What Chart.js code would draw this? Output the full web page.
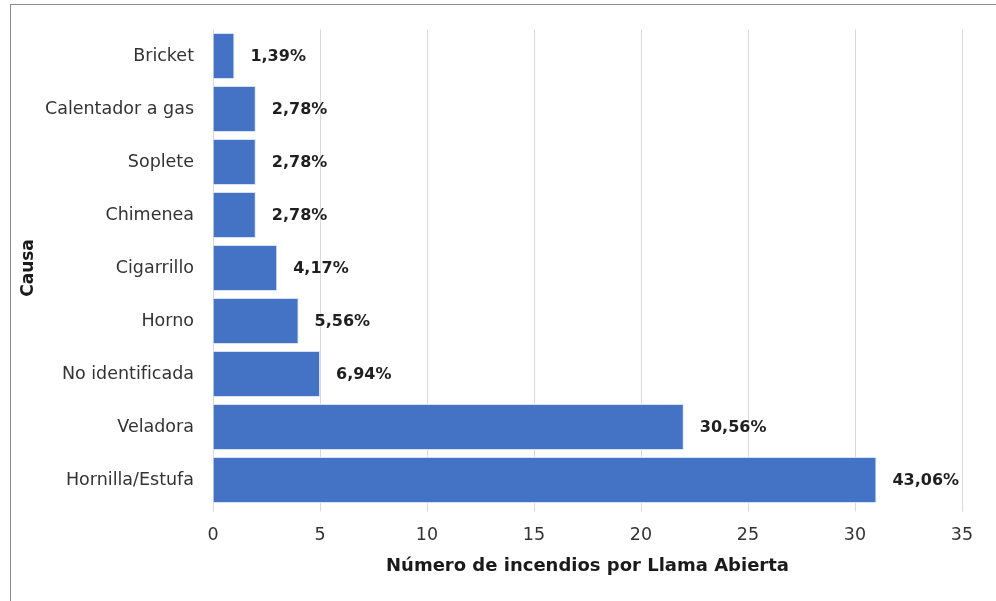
<!DOCTYPE html>
<html lang="es">
<head>
    <meta charset="UTF-8">
    <title>Causas de incendios por llama abierta</title>
    <style>
        body {
            margin: 0;
            background: #fff;
        }

        #wrap {
            position: relative;
            width: 996px;
            height: 601px;
            overflow: hidden;
        }

        #frame {
            position: absolute;
            left: 10px;
            top: 4px;
            width: 1000px;
            height: 620px;
            border: 1px solid #8c8c8c;
            pointer-events: none;
        }
    </style>
</head>
<body>
    <div id="wrap">
        <canvas id="chart" width="996" height="601"></canvas>
        <div id="frame"></div>
    </div>

    <script src="https://cdn.jsdelivr.net/npm/chart.js"></script>
    <script>
        // categories, counts and the percent labels shown next to each bar
        const causas = ['Bricket', 'Calentador a gas', 'Soplete', 'Chimenea', 'Cigarrillo', 'Horno', 'No identificada', 'Veladora', 'Hornilla/Estufa'];
        const incendios = [1, 2, 2, 2, 3, 4, 5, 22, 31];
        const porcentajes = ['1,39%', '2,78%', '2,78%', '2,78%', '4,17%', '5,56%', '6,94%', '30,56%', '43,06%'];
        const xTicks = [0, 5, 10, 15, 20, 25, 30, 35];

        const fontFamily = '"DejaVu Sans"';

        // draws the percent text right of each bar
        const barLabels = {
            id: 'barLabels',
            afterDatasetsDraw(chart) {
                const ctx = chart.ctx;
                const meta = chart.getDatasetMeta(0);
                ctx.save();
                ctx.font = 'bold 16px ' + fontFamily;
                ctx.fillStyle = '#1f1f1f';
                ctx.textAlign = 'left';
                ctx.textBaseline = 'middle';
                meta.data.forEach((bar, i) => {
                    ctx.fillText(porcentajes[i], bar.x + 16, bar.y + 1);
                });
                ctx.restore();
            }
        };

        const ctx = document.getElementById('chart').getContext('2d');
        new Chart(ctx, {
            type: 'bar',
            data: {
                labels: causas,
                datasets: [{
                    data: incendios,
                    backgroundColor: '#4472c4',
                    borderColor: '#d6e0f2',
                    borderWidth: 1,
                    categoryPercentage: 1,
                    barPercentage: 0.87
                }]
            },
            plugins: [barLabels],
            options: {
                indexAxis: 'y',
                responsive: false,
                animation: false,
                layout: {
                    padding: { left: 18, top: 28, right: 34, bottom: 20 }
                },
                plugins: {
                    legend: { display: false },
                    tooltip: { enabled: false }
                },
                scales: {
                    x: {
                        min: 0,
                        max: 35,
                        afterBuildTicks(scale) {
                            scale.ticks = xTicks.map(v => ({ value: v }));
                        },
                        afterFit(scale) {
                            scale.height = 74.5;
                        },
                        grid: {
                            color: '#d9d9d9',
                            lineWidth: 1,
                            tickLength: 5,
                            drawTicks: true
                        },
                        border: { display: false },
                        ticks: {
                            color: '#333',
                            padding: 13,
                            font: { family: fontFamily, size: 17.5 }
                        },
                        title: {
                            display: true,
                            text: 'Número de incendios por Llama Abierta',
                            color: '#1a1a1a',
                            padding: { top: 4, bottom: 4 },
                            font: { family: fontFamily, size: 18, weight: 'bold' }
                        }
                    },
                    y: {
                        afterFit(scale) {
                            scale.width = 195;
                        },
                        grid: { display: false, drawTicks: false },
                        border: { display: false },
                        ticks: {
                            color: '#333',
                            padding: 19,
                            font: { family: fontFamily, size: 17.5 }
                        },
                        title: {
                            display: true,
                            text: 'Causa',
                            color: '#1a1a1a',
                            padding: 0,
                            font: { family: fontFamily, size: 17, weight: 'bold' }
                        }
                    }
                }
            }
        });
    </script>
</body>
</html>
